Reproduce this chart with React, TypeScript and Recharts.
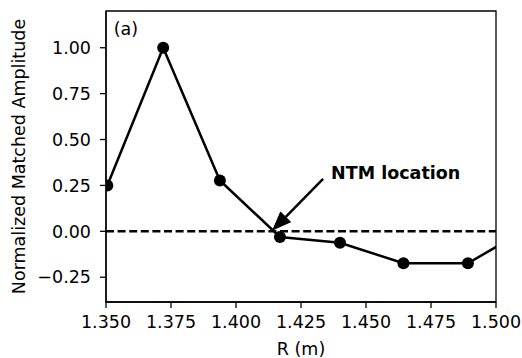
import React from "react";
import {
  LineChart,
  Line,
  XAxis,
  YAxis,
  ReferenceLine,
  ReferenceArea,
  ReferenceDot,
} from "recharts";

// radius (m) and normalized matched amplitude
const radius = [1.3505, 1.372, 1.3938, 1.4169, 1.44, 1.4644, 1.4892, 1.514];
const amplitude = [0.25, 1.0, 0.277, -0.031, -0.062, -0.174, -0.174, 0.03];

const xTicks = [1.35, 1.375, 1.4, 1.425, 1.45, 1.475, 1.5];
const yTicks = [-0.25, 0, 0.25, 0.5, 0.75, 1.0];

// annotation: arrow tail (text side) and head (NTM position)
const ntmTail = { x: 1.4335, y: 0.286 };
const ntmHead = { x: 1.4142, y: 0.008 };
const panelTag = { x: 1.353, y: 1.068 };

const X_DOMAIN: [number, number] = [1.35, 1.5];
const Y_DOMAIN: [number, number] = [-0.385, 1.2];

const FONT = "DejaVu Sans, sans-serif";
const FS = 17.5;

const data = radius.map((r, i) => ({ r, amp: amplitude[i] }));

const tickStyle = { fill: "#000", fontSize: FS, fontFamily: FONT };

function ArrowShape(props: any) {
  const { x1, y1, x2, y2 } = props;
  if (x1 == null || x2 == null) return null;
  const dx = x2 - x1;
  const dy = y2 - y1;
  const len = Math.sqrt(dx * dx + dy * dy);
  const ux = dx / len;
  const uy = dy / len;
  const headLen = 18;
  const headW = 7;
  const bx = x2 - ux * headLen;
  const by = y2 - uy * headLen;
  const pts = [
    `${x2},${y2}`,
    `${bx - uy * headW},${by + ux * headW}`,
    `${bx + uy * headW},${by - ux * headW}`,
  ].join(" ");
  return (
    <g>
      <line x1={x1} y1={y1} x2={bx} y2={by} stroke="#000" strokeWidth={2.5} />
      <polygon points={pts} fill="#000" stroke="#000" strokeWidth={1} />
      <text
        x={x1 + 8}
        y={y1}
        fontFamily={FONT}
        fontSize={FS}
        fontWeight="bold"
        fill="#000"
      >
        NTM location
      </text>
    </g>
  );
}

function TagShape(props: any) {
  const { cx, cy } = props;
  if (cx == null) return null;
  return (
    <text x={cx} y={cy} fontFamily={FONT} fontSize={FS} fill="#000">
      (a)
    </text>
  );
}

export default function App() {
  return (
    <div style={{ position: "fixed", left: 0, top: 0, background: "#fff" }}>
      <LineChart
        width={522}
        height={358}
        data={data}
        margin={{ top: 11, right: 26, bottom: 0, left: 0 }}
      >
        <ReferenceArea
          x1={X_DOMAIN[0]}
          x2={X_DOMAIN[1]}
          y1={Y_DOMAIN[0]}
          y2={Y_DOMAIN[1]}
          fill="none"
          stroke="#000"
          strokeWidth={1.3}
          ifOverflow="visible"
        />
        <XAxis
          dataKey="r"
          type="number"
          domain={X_DOMAIN}
          allowDataOverflow
          ticks={xTicks}
          interval={0}
          tickFormatter={(v: number) => v.toFixed(3)}
          tick={tickStyle}
          tickSize={6}
          tickMargin={8}
          height={56}
          axisLine={{ stroke: "#000", strokeWidth: 1.3 }}
          tickLine={{ stroke: "#000", strokeWidth: 1.3 }}
          label={{
            value: "R (m)",
            position: "insideBottom",
            offset: 3,
            style: { fill: "#000", fontSize: FS, fontFamily: FONT },
          }}
        />
        <YAxis
          type="number"
          domain={Y_DOMAIN}
          allowDataOverflow
          ticks={yTicks}
          interval={0}
          tickFormatter={(v: number) => (v < 0 ? "\u2212" + Math.abs(v).toFixed(2) : v.toFixed(2))}
          tick={tickStyle}
          tickSize={6}
          tickMargin={9}
          width={106}
          axisLine={{ stroke: "#000", strokeWidth: 1.3 }}
          tickLine={{ stroke: "#000", strokeWidth: 1.3 }}
          label={{
            value: "Normalized Matched Amplitude",
            angle: -90,
            position: "insideLeft",
            offset: 19,
            style: { fill: "#000", fontSize: FS, fontFamily: FONT, textAnchor: "middle" },
          }}
        />
        <ReferenceLine
          y={0}
          stroke="#000"
          strokeWidth={2.4}
          strokeDasharray="8 3.6"
        />
        <Line
          dataKey="amp"
          type="linear"
          stroke="#000"
          strokeWidth={2.5}
          dot={{ r: 6, fill: "#000", stroke: "#000", strokeWidth: 0 }}
          activeDot={false}
          isAnimationActive={false}
        />
        <ReferenceLine
          segment={[ntmTail, ntmHead]}
          shape={ArrowShape}
          ifOverflow="visible"
        />
        <ReferenceDot
          x={panelTag.x}
          y={panelTag.y}
          r={0}
          shape={TagShape}
          ifOverflow="visible"
        />
      </LineChart>
    </div>
  );
}
